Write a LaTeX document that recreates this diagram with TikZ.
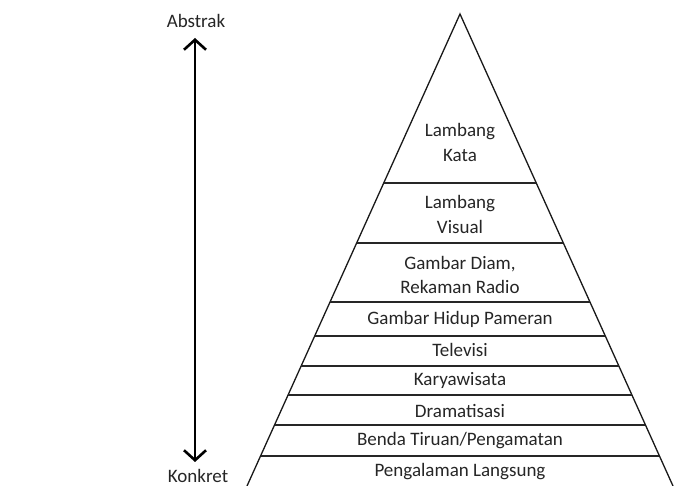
\documentclass[tikz,border=0pt]{standalone}
\usepackage{fontspec}
\setmainfont{Carlito}
\usetikzlibrary{calc,arrows.meta}
\begin{document}
\begin{tikzpicture}[x=1pt,y=-1pt,
  lbl/.style={font=\fontsize{19}{24.5}\selectfont, align=center, inner sep=0pt, text=black!85},
  side/.style={line width=1.3pt, black!90},
  tier/.style={line width=1.5pt, black!85},
  axis/.style={line width=2.6pt, black, {Straight Barb[length=10pt,width=22pt,line width=2.6pt]}-{Straight Barb[length=10pt,width=22pt,line width=2.6pt]}}]
\useasboundingbox (0,0) rectangle (678,486);
\fill[white] (0,0) rectangle (678,486);
\coordinate (apex) at (460,14);
\coordinate (bl) at (247,486);
\coordinate (br) at (673,486);
\begin{scope}
\clip (0,0) rectangle (678,486);
\draw[side] (bl) -- (apex) -- (br);
\end{scope}
\foreach \i/\y in {1/183,2/243,3/302,4/336,5/366,6/395,7/425,8/456}{
  \pgfmathsetmacro\t{(\y-14)/472}
  \coordinate (l\i) at ($(apex)!\t!(bl)$);
  \coordinate (r\i) at ($(apex)!\t!(br)$);
  \draw[tier] (l\i) -- (r\i);
}
\node[lbl] (kata) at (460,142.5) {Lambang\\Kata};
\node[lbl] (visual) at (460,214.5) {Lambang\\Visual};
\node[lbl] (diam) at (460,275) {Gambar Diam,\\Rekaman Radio};
\node[lbl] (hidup) at (460,319) {Gambar Hidup Pameran};
\node[lbl] (tv) at (460,350) {Televisi};
\node[lbl] (karya) at (460,380) {Karyawisata};
\node[lbl] (drama) at (460,411) {Dramatisasi};
\node[lbl] (benda) at (460,441) {Benda Tiruan/Pengamatan};
\node[lbl] (langsung) at (460,472) {Pengalaman Langsung};
\node[lbl] (abs) at (196,21) {Abstrak};
\node[lbl] (kon) at (198,476) {Konkret};
\coordinate (atop) at (195,38);
\coordinate (abot) at (195,462);
\draw[axis] (atop) -- (abot);
\end{tikzpicture}
\end{document}
